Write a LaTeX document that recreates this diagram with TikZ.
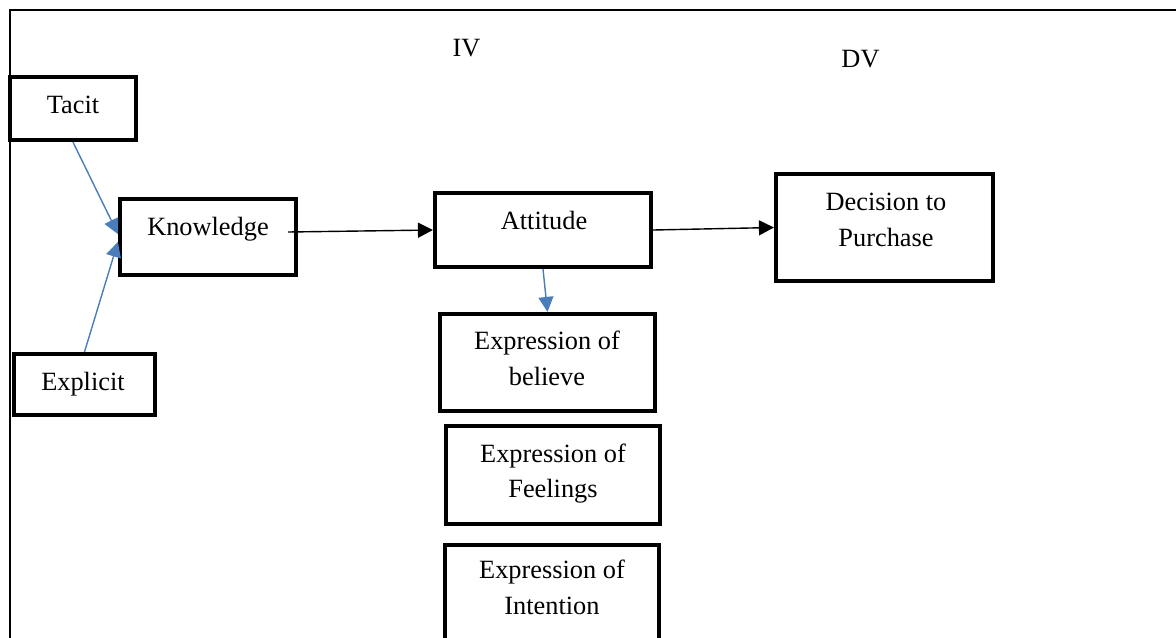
\documentclass[tikz,border=0pt]{standalone}
\usepackage{fontspec}
\setmainfont{Liberation Serif}
\usepackage{xcolor}
\usetikzlibrary{arrows.meta, positioning}
\definecolor{linkblue}{HTML}{4A7EBB}

\begin{document}
\begin{tikzpicture}[x=0.02cm, y=-0.02cm,
        box/.style={draw, line width=2.4pt, rectangle, inner sep=0pt},
        txt/.style={font=\fontsize{15}{20.4}\selectfont, align=center, inner sep=0pt},
        blk/.style={black, line width=0.8pt, -{Triangle[length=0.3cm, width=0.3cm]}},
        blu/.style={linkblue, line width=0.8pt, -{Triangle[length=0.3cm, width=0.3cm]}}]
        \useasboundingbox (0,0) rectangle (1176,637);
        % outer frame
        \draw[line width=0.8pt] (10,700) -- (10,10) -- (1250,10);
        % labels
        \node[txt, anchor=base] (iv) at (466.5,56) {IV};
        \node[txt, anchor=base] (dv) at (860.5,67) {DV};
        % boxes
        \node[box, minimum width=2.52cm, minimum height=1.26cm] (tacit) at (73,108.5) {};
        \node[box, minimum width=3.52cm, minimum height=1.52cm] (know) at (208,237) {};
        \node[box, minimum width=2.82cm, minimum height=1.22cm] (expl) at (84.5,384.5) {};
        \node[box, minimum width=4.32cm, minimum height=1.48cm] (att) at (543,230) {};
        \node[box, minimum width=4.34cm, minimum height=2.14cm] (dec) at (884.5,227.5) {};
        \node[box, minimum width=4.30cm, minimum height=1.94cm] (bel) at (547.5,362.5) {};
        \node[box, minimum width=4.28cm, minimum height=1.96cm] (feel) at (553,475) {};
        \node[box, minimum width=4.28cm, minimum height=2.10cm] (intent) at (552,597.5) {};
        % texts
        \node[txt, anchor=base] (tacittxt) at (73,113) {Tacit};
        \node[txt, anchor=base] (knowtxt) at (208,235) {Knowledge};
        \node[txt, anchor=base] (expltxt) at (83,390) {Explicit};
        \node[txt, anchor=base] (atttxt) at (544,229) {Attitude};
        \node[txt] (dectxt) at (886,219.5) {Decision to\\Purchase};
        \node[txt] (beltxt) at (547,358) {Expression of\\believe};
        \node[txt] (feeltxt) at (553,473.5) {Expression of\\Feelings};
        \node[txt] (intenttxt) at (552,587.5) {Expression of\\Intention};
        % connectors
        \coordinate (kout) at (288,232);
        \draw[blu] (tacit.south) -- ([yshift=1.7pt]know.west);
        \draw[blu] (expl.north) -- ([yshift=-2.8pt]know.west);
        \draw[blk] (kout) -- (att.west);
        \draw[blk] (att.east) -- (dec.west);
        \draw[blu] (att.south) -- (bel.north);
\end{tikzpicture}
\end{document}
